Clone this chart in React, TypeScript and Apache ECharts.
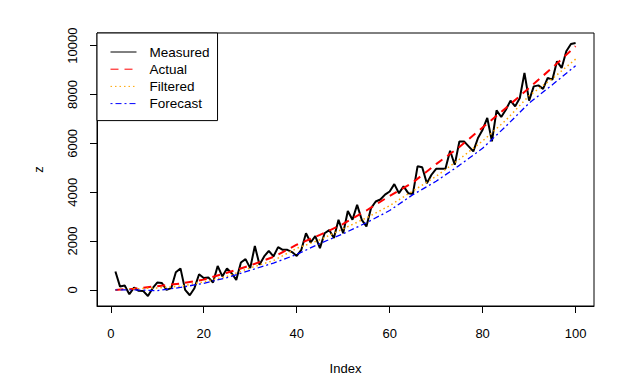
import React, { useEffect, useRef } from "react";
import * as echarts from "echarts";

const indexValues: number[] = Array.from({ length: 100 }, (_, k) => k + 1);

const measured = [
  750, 135, 180, -180, 95, -40, -50, -250, 70, 300,
  280, 0, 70, 720, 880, 0, -220, 70, 640, 490,
  510, 300, 980, 550, 880, 680, 410, 1120, 1260, 890,
  1800, 1025, 1370, 1600, 1370, 1750, 1640, 1640, 1550, 1390,
  1640, 2320, 1940, 2200, 1710, 2320, 2450, 2120, 2870, 2320,
  3230, 2870, 3480, 2870, 2600, 3350, 3620, 3700, 3900, 4030,
  4330, 3960, 4240, 3960, 3930, 5060, 5020, 4370, 4715, 4960,
  4960, 4960, 5700, 5125, 6080, 6080, 5875, 5670, 6220, 6560,
  7040, 6080, 7350, 7080, 7380, 7750, 7515, 7860, 8885, 7750,
  8335, 8375, 8230, 8680, 8610, 9360, 9090, 9770, 10070, 10110,
];

const smoothIdx = [1, 5, 10, 15, 20, 25, 30, 35, 40, 45, 50, 55, 60, 65, 70, 75, 80, 85, 90, 95, 100];
const actual = [0, 50, 150, 260, 420, 700, 1000, 1350, 1850, 2250, 2700, 3250, 3850, 4400, 5150, 5850, 6650, 7450, 8270, 9100, 9980];
const filtered = [0, 40, 80, 150, 330, 550, 900, 1200, 1700, 2050, 2500, 2950, 3450, 4050, 4650, 5350, 6100, 6950, 7950, 8650, 9450];
const forecast = [0, 0, -30, 100, 270, 500, 800, 1100, 1450, 1900, 2300, 2750, 3250, 3900, 4450, 5100, 5800, 6700, 7650, 8400, 9180];

const xTicks = [0, 20, 40, 60, 80, 100];
const yTicks = [0, 2000, 4000, 6000, 8000, 10000];
const legendNames = ["Measured", "Actual", "Filtered", "Forecast"];

const FONT = "'Liberation Sans', Arial, sans-serif";

export default function App() {
  const ref = useRef<HTMLDivElement>(null);
  useEffect(() => {
    const chart = echarts.init(ref.current!, null, { renderer: "svg" });
    const pair = (xs: number[], ys: number[]) => xs.map((x, k) => [x, ys[k]]);
    chart.setOption({
      animation: false,
      backgroundColor: "#ffffff",
      textStyle: { fontFamily: FONT },
      grid: {
        left: 97,
        right: 46,
        top: 33,
        bottom: 78,
        show: true,
        borderColor: "#000",
        borderWidth: 1,
        backgroundColor: "transparent",
        outerBoundsMode: "none",
      },
      xAxis: {
        type: "value",
        min: -2.96,
        max: 103.96,
        name: "Index",
        nameLocation: "middle",
        nameGap: 56,
        nameTextStyle: { fontSize: 13, color: "#000", fontFamily: FONT },
        axisLine: { show: true, onZero: false, lineStyle: { color: "#000", width: 1 } },
        splitLine: { show: false },
        axisTick: { show: true, length: 7, customValues: xTicks, lineStyle: { color: "#000" } },
        axisLabel: {
          customValues: xTicks,
          margin: 21,
          fontSize: 13,
          color: "#000",
          fontFamily: FONT,
          formatter: (v: number) => String(v),
        },
      },
      yAxis: {
        type: "value",
        min: -660,
        max: 10520,
        name: "z",
        nameLocation: "middle",
        nameGap: 52,
        nameRotate: 90,
        nameTextStyle: { fontSize: 13, color: "#000", fontFamily: FONT },
        axisLine: { show: true, onZero: false, lineStyle: { color: "#000", width: 1 } },
        splitLine: { show: false },
        axisTick: { show: true, length: 7, customValues: yTicks, lineStyle: { color: "#000" } },
        axisLabel: {
          customValues: yTicks,
          rotate: 90,
          margin: 18,
          fontSize: 13,
          color: "#000",
          fontFamily: FONT,
          formatter: (v: number) => String(v),
        },
      },
      legend: {
        orient: "vertical",
        left: 97,
        top: 33,
        padding: [12, 8, 10, 13],
        itemWidth: 26,
        itemHeight: 14,
        itemGap: 3.2,
        borderColor: "#000",
        borderWidth: 1,
        backgroundColor: "#fff",
        selectedMode: false,
        textStyle: { fontSize: 13.5, color: "#000", fontFamily: FONT, padding: [0, 0, 0, 8] },
        lineStyle: { width: 1 },
        itemStyle: { opacity: 0, borderWidth: 0 },
        data: legendNames,
      },
      series: [
        {
          name: legendNames[0],
          type: "line",
          data: pair(indexValues, measured),
          symbol: "none",
          lineStyle: { color: "#000", width: 2 },
          itemStyle: { color: "#000" },
        },
        {
          name: legendNames[1],
          type: "line",
          data: pair(smoothIdx, actual),
          symbol: "none",
          lineStyle: { color: "#ff0000", width: 2, type: [8, 6] },
          itemStyle: { color: "#ff0000" },
        },
        {
          name: legendNames[2],
          type: "line",
          data: pair(smoothIdx, filtered),
          symbol: "none",
          lineStyle: { color: "#ffa500", width: 1.5, type: [1.5, 3] },
          itemStyle: { color: "#ffa500" },
        },
        {
          name: legendNames[3],
          type: "line",
          data: pair(smoothIdx, forecast),
          symbol: "none",
          lineStyle: { color: "#0000ff", width: 1.3, type: [2, 3, 6, 3] },
          itemStyle: { color: "#0000ff" },
        },
      ],
    });
    return () => chart.dispose();
  }, []);
  return <div ref={ref} style={{ position: "fixed", left: 0, top: 0, width: 640, height: 384 }} />;
}
